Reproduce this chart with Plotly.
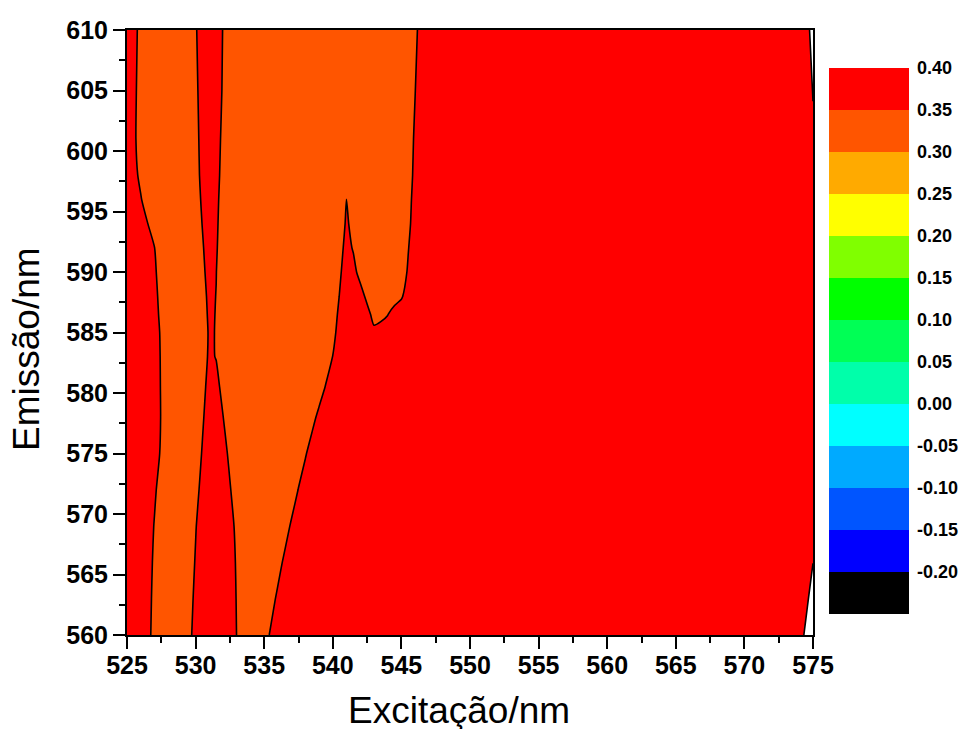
import plotly.graph_objects as go

# ---------------- data ----------------
excitation_nm = [525, 525.5, 526, 526.5, 527, 527.5, 528, 528.5, 529, 529.5,
                 530, 530.5, 531, 531.5, 532, 532.5, 533, 533.5, 534, 534.5,
                 535, 535.5, 536, 536.5, 537, 537.5, 538, 538.5, 539, 539.5,
                 540, 540.5, 541, 541.5, 542, 542.5, 543, 543.5, 544, 544.5,
                 545, 545.5, 546, 546.5, 547, 555, 565, 574, 574.5, 575]

emission_nm = [560, 563, 566, 569, 572, 575, 578, 580.5, 583, 585,
               586.5, 588, 590, 592, 594, 596, 598, 601, 605, 610]

# intensity rows (one row per emission value, one column per excitation value)
intensity = [
    # 560
    [.38, .38, .38, .364, .334, .32, .32, .32, .32, .337,
     .367, .38, .38, .38, .38, .379, .349, .32, .32, .32,
     .328, .358, .38, .38, .38, .38, .38, .38, .38, .38,
     .38, .38, .38, .38, .38, .38, .38, .38, .38, .38,
     .38, .38, .38, .38, .38, .38, .38, .38, .41, .43],
    # 563
    [.38, .38, .38, .367, .337, .32, .32, .32, .32, .331,
     .361, .38, .38, .38, .38, .377, .347, .32, .32, .32,
     .32, .331, .361, .38, .38, .38, .38, .38, .38, .38,
     .38, .38, .38, .38, .38, .38, .38, .38, .38, .38,
     .38, .38, .38, .38, .38, .38, .38, .38, .39, .42],
    # 566
    [.38, .38, .38, .371, .341, .32, .32, .32, .32, .324,
     .354, .38, .38, .38, .38, .374, .344, .32, .32, .32,
     .32, .32, .331, .361, .38, .38, .38, .38, .38, .38,
     .38, .38, .38, .38, .38, .38, .38, .38, .38, .38,
     .38, .38, .38, .38, .38, .38, .38, .38, .38, .3995],
    # 569
    [.38, .38, .38, .377, .347, .32, .32, .32, .32, .32,
     .347, .377, .38, .38, .38, .368, .338, .32, .32, .32,
     .32, .32, .32, .328, .358, .38, .38, .38, .38, .38,
     .38, .38, .38, .38, .38, .38, .38, .38, .38, .38,
     .38, .38, .38, .38, .38, .38, .38, .38, .38, .385],
    # 572
    [.38, .38, .38, .38, .358, .328, .32, .32, .32, .32,
     .335, .365, .38, .38, .38, .354, .324, .32, .32, .32,
     .32, .32, .32, .32, .322, .352, .38, .38, .38, .38,
     .38, .38, .38, .38, .38, .38, .38, .38, .38, .38,
     .38, .38, .38, .38, .38, .38, .38, .38, .38, .38],
    # 575
    [.38, .38, .38, .38, .373, .343, .32, .32, .32, .32,
     .324, .354, .38, .38, .369, .339, .32, .32, .32, .32,
     .32, .32, .32, .32, .32, .32, .345, .375, .38, .38,
     .38, .38, .38, .38, .38, .38, .38, .38, .38, .38,
     .38, .38, .38, .38, .38, .38, .38, .38, .38, .38],
    # 578
    [.38, .38, .38, .38, .377, .347, .32, .32, .32, .32,
     .32, .344, .374, .38, .351, .321, .32, .32, .32, .32,
     .32, .32, .32, .32, .32, .32, .32, .334, .364, .38,
     .38, .38, .38, .38, .38, .38, .38, .38, .38, .38,
     .38, .38, .38, .38, .38, .38, .38, .38, .38, .38],
    # 580.5
    [.38, .38, .38, .38, .376, .346, .32, .32, .32, .32,
     .32, .336, .366, .365, .335, .32, .32, .32, .32, .32,
     .32, .32, .32, .32, .32, .32, .32, .32, .324, .354,
     .38, .38, .38, .38, .38, .38, .38, .38, .38, .38,
     .38, .38, .38, .38, .38, .38, .38, .38, .38, .38],
    # 583
    [.38, .38, .38, .38, .375, .345, .32, .32, .32, .32,
     .32, .328, .358, .348, .32, .32, .32, .32, .32, .32,
     .32, .32, .32, .32, .32, .32, .32, .32, .32, .321,
     .351, .38, .38, .38, .38, .38, .38, .38, .38, .38,
     .38, .38, .38, .38, .38, .38, .38, .38, .38, .38],
    # 585
    [.38, .38, .38, .38, .373, .343, .32, .32, .32, .32,
     .32, .325, .356, .348, .32, .32, .32, .32, .32, .32,
     .32, .32, .32, .32, .32, .32, .32, .32, .32, .32,
     .337, .367, .38, .38, .38, .37, .36, .38, .38, .38,
     .38, .38, .38, .38, .38, .38, .38, .38, .38, .38],
    # 586.5
    [.38, .38, .38, .38, .368, .338, .32, .32, .32, .32,
     .32, .329, .359, .348, .32, .32, .32, .32, .32, .32,
     .32, .32, .32, .32, .32, .32, .32, .32, .32, .32,
     .33, .36, .38, .38, .38, .365, .335, .33, .348, .378,
     .38, .38, .38, .38, .38, .38, .38, .38, .38, .38],
    # 588
    [.38, .38, .38, .38, .364, .334, .32, .32, .32, .32,
     .32, .333, .362, .349, .32, .32, .32, .32, .32, .32,
     .32, .32, .32, .32, .32, .32, .32, .32, .32, .32,
     .322, .352, .38, .38, .369, .339, .32, .32, .32, .32,
     .344, .374, .38, .38, .38, .38, .38, .38, .38, .38],
    # 590
    [.38, .38, .38, .38, .358, .328, .32, .32, .32, .32,
     .32, .339, .369, .351, .321, .32, .32, .32, .32, .32,
     .32, .32, .32, .32, .32, .32, .32, .32, .32, .32,
     .32, .343, .373, .364, .334, .32, .32, .32, .32, .32,
     .326, .356, .38, .38, .38, .38, .38, .38, .38, .38],
    # 592
    [.38, .38, .38, .38, .351, .32, .32, .32, .32, .32,
     .32, .345, .375, .355, .325, .32, .32, .32, .32, .32,
     .32, .32, .32, .32, .32, .32, .32, .32, .32, .32,
     .32, .334, .365, .346, .32, .32, .32, .32, .32, .32,
     .32, .348, .378, .38, .38, .38, .38, .38, .38, .38],
    # 594
    [.38, .38, .38, .351, .321, .32, .32, .32, .32, .32,
     .322, .352, .38, .358, .328, .32, .32, .32, .32, .32,
     .32, .32, .32, .32, .32, .32, .32, .32, .32, .32,
     .32, .327, .356, .337, .32, .32, .32, .32, .32, .32,
     .32, .34, .37, .38, .38, .38, .38, .38, .38, .38],
    # 596
    [.38, .38, .354, .324, .32, .32, .32, .32, .32, .32,
     .328, .358, .38, .361, .331, .32, .32, .32, .32, .32,
     .32, .32, .32, .32, .32, .32, .32, .32, .32, .32,
     .32, .32, .351, .32, .32, .32, .32, .32, .32, .32,
     .32, .336, .366, .38, .38, .38, .38, .38, .38, .38],
    # 598
    [.38, .367, .337, .32, .32, .32, .32, .32, .32, .32,
     .333, .363, .38, .365, .335, .32, .32, .32, .32, .32,
     .32, .32, .32, .32, .32, .32, .32, .32, .32, .32,
     .32, .32, .32, .32, .32, .32, .32, .32, .32, .32,
     .32, .331, .361, .38, .38, .38, .38, .38, .38, .38],
    # 601
    [.38, .359, .329, .32, .32, .32, .32, .32, .32, .32,
     .336, .366, .38, .369, .339, .32, .32, .32, .32, .32,
     .32, .32, .32, .32, .32, .32, .32, .32, .32, .32,
     .32, .32, .32, .32, .32, .32, .32, .32, .32, .32,
     .32, .327, .357, .38, .38, .38, .38, .38, .38, .393],
    # 605
    [.38, .361, .331, .32, .32, .32, .32, .32, .32, .32,
     .34, .37, .38, .375, .345, .32, .32, .32, .32, .32,
     .32, .32, .32, .32, .32, .32, .32, .32, .32, .32,
     .32, .32, .32, .32, .32, .32, .32, .32, .32, .32,
     .32, .32, .349, .38, .38, .38, .38, .38, .375, .402],
    # 610
    [.38, .365, .335, .32, .32, .32, .32, .32, .32, .32,
     .345, .375, .38, .378, .348, .32, .32, .32, .32, .32,
     .32, .32, .32, .32, .32, .32, .32, .32, .32, .32,
     .32, .32, .32, .32, .32, .32, .32, .32, .32, .32,
     .32, .32, .34, .37, .38, .38, .38, .38, .385, .415],
]

level_ticks = [-0.20, -0.15, -0.10, -0.05, 0.00, 0.05, 0.10, 0.15, 0.20, 0.25, 0.30, 0.35, 0.40]
level_labels = ["-0.20", "-0.15", "-0.10", "-0.05", "0.00", "0.05", "0.10", "0.15",
                "0.20", "0.25", "0.30", "0.35", "0.40"]
# colours of the bands from -0.25 upward to 0.40
band_colors = ["#000000", "#0000ff", "#0055ff", "#00aaff", "#00ffff", "#00ffaa", "#00ff55",
               "#00ff00", "#80ff00", "#ffff00", "#ffaa00", "#ff5500", "#ff0000"]
above_color = "#ffffff"

x_ticks = [525, 530, 535, 540, 545, 550, 555, 560, 565, 570, 575]
y_ticks = [560, 565, 570, 575, 580, 585, 590, 595, 600, 605, 610]


def bar_scale(colors):
    """equal discrete steps for the colour bar"""
    n = len(colors)
    scale = []
    for i, c in enumerate(colors):
        scale.append([i / n, c])
        scale.append([(i + 1) / n, c])
    return scale


def level_scale(colors):
    """discrete steps centred on the sample points plotly uses for filled contours"""
    n = len(colors) - 1
    scale = [[0, colors[0]]]
    for j in range(1, n + 1):
        p = (j - 0.5) / n
        scale.append([p, colors[j - 1]])
        scale.append([p, colors[j]])
    scale.append([1, colors[n]])
    return scale


FONT = "Liberation Sans, Arial, sans-serif"

fig = go.Figure()

fig.add_trace(go.Contour(
    x=excitation_nm, y=emission_nm, z=intensity,
    colorscale=level_scale(band_colors + [above_color, above_color]),
    contours=dict(start=-0.20, end=0.45, size=0.05, coloring="fill", showlines=True),
    line=dict(color="black", width=1.6, smoothing=0.6),
    showscale=False,
    hoverinfo="skip",
))

# colour scale legend (discrete bands)
fig.add_trace(go.Scatter(
    x=[None, None], y=[None, None], mode="markers",
    marker=dict(
        color=[-0.25, 0.40], cmin=-0.25, cmax=0.40,
        colorscale=bar_scale(band_colors), showscale=True,
        colorbar=dict(
            tickvals=level_ticks, ticktext=level_labels,
            thickness=80, thicknessmode="pixels",
            len=546, lenmode="pixels",
            x=(829 - 127) / 686, xanchor="left", xpad=0,
            y=(635 - 341) / 605, yanchor="middle", ypad=0,
            outlinewidth=0, ticks="outside", ticklen=5, tickcolor="rgba(0,0,0,0)",
            tickfont=dict(family=FONT, size=18, color="black", weight="bold"),
        ),
    ),
    showlegend=False, hoverinfo="skip",
))

axis_common = dict(
    showline=True, linewidth=2, linecolor="black", mirror=True,
    ticks="outside", ticklen=12, tickwidth=2, tickcolor="black",
    showgrid=False, zeroline=False,
    tickfont=dict(family=FONT, size=25, color="black", weight="bold"),
    minor=dict(ticks="outside", ticklen=6, tickwidth=2, tickcolor="black"),
)

fig.update_xaxes(range=[525, 575], tickvals=x_ticks, minor_dtick=2.5, minor_tick0=525,
                 ticklabelstandoff=-5, **axis_common)
fig.update_yaxes(range=[560, 610], tickvals=y_ticks, minor_dtick=2.5, minor_tick0=560,
                 ticklabelstandoff=0, **axis_common)

fig.add_annotation(text="Excitação/nm", xref="paper", yref="paper",
                   x=(459 - 127) / 686, y=(635 - 710) / 605,
                   xanchor="center", yanchor="middle", showarrow=False,
                   font=dict(family=FONT, size=37, color="black"))
fig.add_annotation(text="Emissão/nm", xref="paper", yref="paper",
                   x=(26 - 127) / 686, y=(635 - 349) / 605, textangle=-90,
                   xanchor="center", yanchor="middle", showarrow=False,
                   font=dict(family=FONT, size=37, color="black"))

fig.update_layout(
    width=959, height=729,
    margin=dict(l=127, r=146, t=30, b=94, pad=0, autoexpand=False),
    paper_bgcolor="white", plot_bgcolor="white",
    showlegend=False,
)

fig.write_html("out.html", config={"displayModeBar": False},
               post_script="document.body.style.margin='0';document.body.style.overflow='hidden';")
